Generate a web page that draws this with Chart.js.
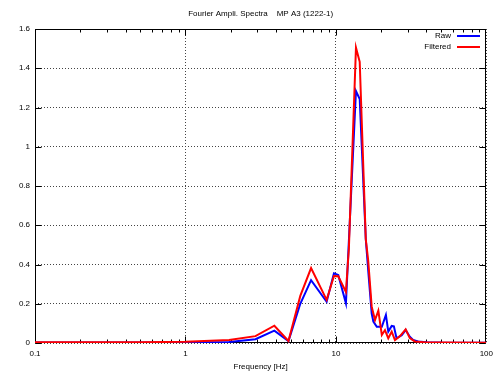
<!DOCTYPE html>
<html>
<head>
<meta charset="utf-8">
<script src="https://cdn.jsdelivr.net/npm/chart.js@4.4.0/dist/chart.umd.min.js"></script>
<style>
  html, body { margin: 0; padding: 0; background: #fff; }
</style>
</head>
<body>
<canvas id="fftChart" width="499" height="376"></canvas>
<script>
// ── Data ──
const TITLE = "Fourier Ampli. Spectra    MP A3 (1222-1)";
const X_LABEL = "Frequency [Hz]";
const SERIES_NAMES = ["Raw", "Filtered"];
const X_TICKS = [0.1, 1, 10, 100];
const Y_TICKS = [0, 0.2, 0.4, 0.6, 0.8, 1, 1.2, 1.4, 1.6];

const rawFreq = [0.1, 0.5, 1.0, 1.95, 2.92, 3.9, 4.84, 5.8, 6.84, 8.68, 9.71, 10.37, 11.66, 13.6, 14.4,
  15.8, 16.4, 17.3, 17.75, 18.7, 20.2, 21.5, 22.3, 23.5, 24.3, 25.3, 27.4, 29.1, 31.0, 32.6, 35.2, 40, 50, 100];
const rawAmp = [0.002, 0.002, 0.003, 0.005, 0.019, 0.063, 0.01, 0.2, 0.32, 0.21, 0.355, 0.347, 0.202, 1.284, 1.243,
  0.53, 0.37, 0.15, 0.109, 0.083, 0.083, 0.143, 0.058, 0.087, 0.085, 0.024, 0.04, 0.066, 0.032, 0.015, 0.008, 0.004, 0.002, 0.001];

const filtFreq = [0.1, 0.5, 1.0, 1.95, 2.92, 3.9, 4.84, 5.8, 6.84, 8.68, 9.71, 10.37, 11.66, 12.2, 13.6,
  14.4, 15.8, 16.4, 17.3, 18.2, 19.15, 20.2, 21.2, 22.3, 23.5, 24.7, 26.7, 29.1, 31.0, 33.5, 40, 50, 100];
const filtAmp = [0.004, 0.004, 0.006, 0.015, 0.035, 0.088, 0.01, 0.24, 0.382, 0.22, 0.341, 0.34, 0.26, 0.48, 1.505,
  1.433, 0.53, 0.42, 0.185, 0.117, 0.165, 0.041, 0.066, 0.024, 0.058, 0.015, 0.035, 0.07, 0.025, 0.008, 0.003, 0.002, 0.001];

const COLORS = ["#0000ff", "#ff0000"];
const FONT = "8px 'Liberation Sans', Arial, sans-serif";

function toPoints(xs, ys) {
  return xs.map((x, i) => ({ x: x, y: ys[i] }));
}

// ── Frame, ticks, title, legend (gnuplot look) ──
const gnuplotFrame = {
  id: "gnuplotFrame",
  beforeDatasetsDraw(chart) {
    const { ctx, chartArea: a, scales: { x, y } } = chart;
    const L = Math.round(a.left) + 0.5, R = Math.round(a.right) - 0.5;
    const T = Math.round(a.top) + 0.5, B = Math.round(a.bottom) - 0.5;
    ctx.save();
    ctx.strokeStyle = "#000";
    ctx.lineWidth = 1;
    ctx.beginPath();

    // x ticks: majors at decades, minors 2..9
    for (let d = 0.1; d < 100; d *= 10) {
      for (let k = 1; k <= 9; k++) {
        const px = Math.round(x.getPixelForValue(d * k)) + 0.5;
        const len = k === 1 ? 6 : 3;
        ctx.moveTo(px, B); ctx.lineTo(px, B - len);
        ctx.moveTo(px, T); ctx.lineTo(px, T + len);
      }
    }
    // y ticks, both sides
    Y_TICKS.forEach(v => {
      const py = Math.round(y.getPixelForValue(v)) + 0.5;
      ctx.moveTo(L, py); ctx.lineTo(L + 6, py);
      ctx.moveTo(R, py); ctx.lineTo(R - 6, py);
    });
    ctx.stroke();
    ctx.strokeRect(L, T, R - L, B - T);

    // title + axis label
    ctx.fillStyle = "#000";
    ctx.font = FONT;
    ctx.textAlign = "center";
    ctx.textBaseline = "middle";
    const cx = (a.left + a.right) / 2;
    ctx.fillText(TITLE, cx, 14);
    ctx.fillText(X_LABEL, cx, 367);
    ctx.restore();
  },
  afterDatasetsDraw(chart) {
    const { ctx } = chart;
    ctx.save();
    ctx.font = FONT;
    ctx.textAlign = "right";
    ctx.textBaseline = "middle";
    SERIES_NAMES.forEach((name, i) => {
      const yy = 36 + i * 11;
      ctx.fillStyle = "#000";
      ctx.fillText(name, 451, yy);
      ctx.strokeStyle = COLORS[i];
      ctx.lineWidth = 2;
      ctx.beginPath();
      ctx.moveTo(457, yy);
      ctx.lineTo(480, yy);
      ctx.stroke();
    });
    ctx.restore();
  }
};

const grid = {
  color: "#444",
  lineWidth: 1,
  drawTicks: false
};
// v4: grid line dashes live on the border options
const dotted = { display: false, dash: [1, 2] };

new Chart(document.getElementById("fftChart"), {
  type: "line",
  data: {
    datasets: [
      {
        label: SERIES_NAMES[0],
        data: toPoints(rawFreq, rawAmp),
        borderColor: COLORS[0],
        borderWidth: 2,
        order: 1
      },
      {
        label: SERIES_NAMES[1],
        data: toPoints(filtFreq, filtAmp),
        borderColor: COLORS[1],
        borderWidth: 2,
        order: 0
      }
    ]
  },
  options: {
    responsive: false,
    animation: false,
    devicePixelRatio: 1,
    layout: { padding: { top: 29, right: 11, bottom: 0, left: 0 } },
    elements: {
      point: { radius: 0 },
      line: { tension: 0, fill: false }
    },
    plugins: {
      legend: { display: false },
      title: { display: false },
      tooltip: { enabled: false }
    },
    scales: {
      x: {
        type: "logarithmic",
        min: 0.1,
        max: 100,
        afterBuildTicks: s => { s.ticks = X_TICKS.map(v => ({ value: v })); },
        afterFit: s => { s.height = 33; },
        ticks: {
          color: "#000",
          font: { family: "'Liberation Sans', Arial, sans-serif", size: 8 },
          padding: 6,
          maxRotation: 0,
          autoSkip: false,
          callback: v => String(v)
        },
        grid: grid,
        border: dotted
      },
      y: {
        type: "linear",
        min: 0,
        max: 1.6,
        afterBuildTicks: s => { s.ticks = Y_TICKS.map(v => ({ value: v })); },
        afterFit: s => { s.width = 35; },
        ticks: {
          color: "#000",
          font: { family: "'Liberation Sans', Arial, sans-serif", size: 8 },
          padding: 5,
          callback: v => String(+v.toFixed(1))
        },
        grid: grid,
        border: dotted
      }
    }
  },
  plugins: [gnuplotFrame]
});
</script>
</body>
</html>
